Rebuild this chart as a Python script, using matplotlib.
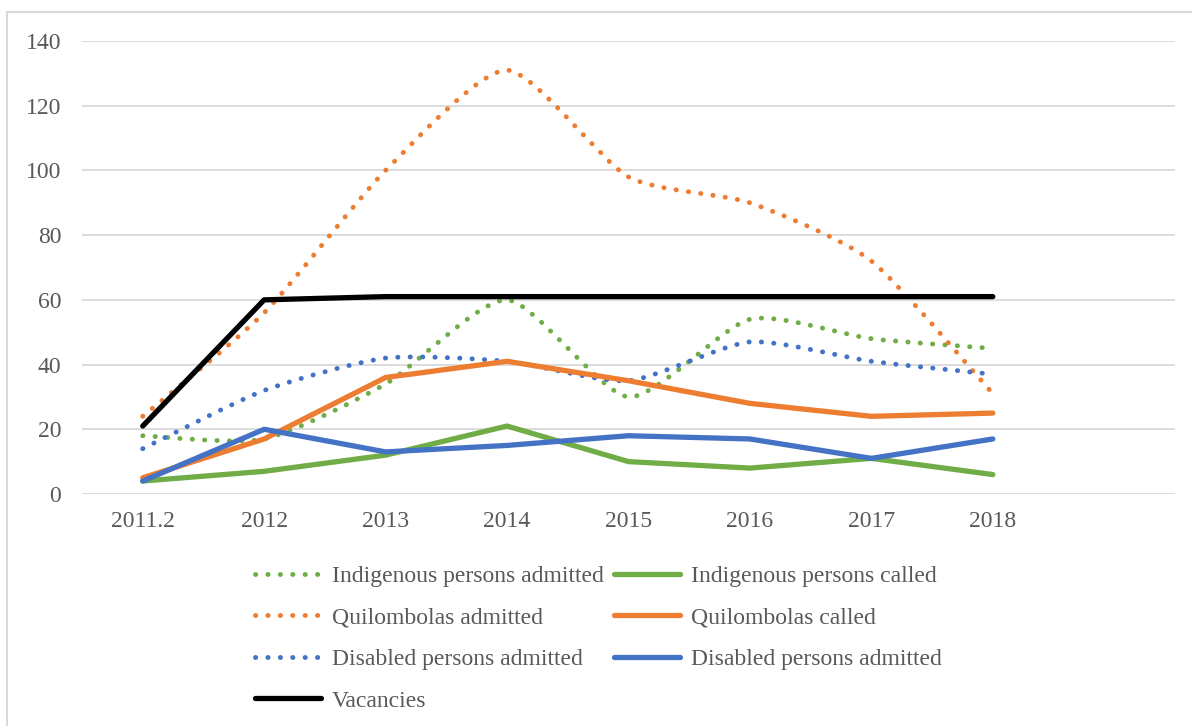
import matplotlib.pyplot as plt
import numpy as np
from matplotlib.path import Path
from matplotlib.patches import PathPatch
from matplotlib.lines import Line2D

plt.rcParams['font.family'] = ['Liberation Serif', 'DejaVu Serif']

years = ['2011.2', '2012', '2013', '2014', '2015', '2016', '2017', '2018']

indigenous_admitted = [18, 17, 34, 60, 30, 54, 48, 45]
indigenous_called = [4, 7, 12, 21, 10, 8, 11, 6]
quilombolas_admitted = [24, 56, 100, 131, 98, 90, 72, 31]
quilombolas_called = [5, 17, 36, 41, 35, 28, 24, 25]
disabled_admitted = [14, 32, 42, 41, 35, 47, 41, 37]
disabled_called = [4, 20, 13, 15, 18, 17, 11, 17]
vacancies = [21, 60, 61, 61, 61, 61, 61, 61]

GREEN = '#70AD47'
ORANGE = '#ED7D31'
BLUE = '#4472C4'
TEXT = '#595959'
FS = 17


def smooth_path(xs, ys, k=1 / 9.0):
    # cubic bezier through every point, control points from neighbours
    pts = np.column_stack([xs, ys]).astype(float)
    padded = np.vstack([pts[0], pts, pts[-1]])
    verts = [pts[0]]
    codes = [Path.MOVETO]
    for i in range(len(pts) - 1):
        p0, p1, p2, p3 = padded[i], padded[i + 1], padded[i + 2], padded[i + 3]
        c1 = p1 + (p2 - p0) * k
        c2 = p2 - (p3 - p1) * k
        verts += [c1, c2, p2]
        codes += [Path.CURVE4] * 3
    return Path(verts, codes)


fig = plt.figure(figsize=(11.92, 7.26), dpi=100)
ax = fig.add_axes([0.0688, 0.3196, 0.9169, 0.6239])

x = np.arange(len(years))
dot_style = (0, (0.05, 2.5))
dot_lw = 3.5
solid_lw = 3.8

for vals, col in [(indigenous_admitted, GREEN),
                  (quilombolas_admitted, ORANGE),
                  (disabled_admitted, BLUE)]:
    patch = PathPatch(smooth_path(x, vals), fill=False, edgecolor=col,
                      linewidth=dot_lw, linestyle=dot_style, zorder=3)
    patch.set_capstyle('round')
    ax.add_patch(patch)

ax.plot(x, indigenous_called, color=GREEN, lw=solid_lw, zorder=4,
        solid_capstyle='round', solid_joinstyle='round')
ax.plot(x, quilombolas_called, color=ORANGE, lw=solid_lw, zorder=4,
        solid_capstyle='round', solid_joinstyle='round')
ax.plot(x, disabled_called, color=BLUE, lw=solid_lw, zorder=4,
        solid_capstyle='round', solid_joinstyle='round')
ax.plot(x, vacancies, color='black', lw=solid_lw, zorder=5,
        solid_capstyle='round', solid_joinstyle='round')

ax.set_xlim(-0.5, 8.5)
ax.set_ylim(0, 140)
ax.set_yticks(range(0, 141, 20))
ax.set_xticks(x)
ax.set_xticklabels(years)
ax.grid(axis='y', color='#D9D9D9', lw=1.3, zorder=0)
ax.set_axisbelow(True)
for s in ax.spines.values():
    s.set_visible(False)
ax.tick_params(length=0, labelsize=FS, colors=TEXT)
ax.tick_params(axis='x', pad=12)
ax.tick_params(axis='y', pad=15)


def dot_handle(col):
    h = Line2D([], [], color=col, lw=dot_lw, linestyle=dot_style)
    h.set_dash_capstyle('round')
    return h


def solid_handle(col):
    return Line2D([], [], color=col, lw=solid_lw, solid_capstyle='round')


# legend is filled column by column, so list column 1 first
handles = [dot_handle(GREEN), dot_handle(ORANGE), dot_handle(BLUE),
           solid_handle('black'),
           solid_handle(GREEN), solid_handle(ORANGE), solid_handle(BLUE)]
labels = ['Indigenous persons admitted', 'Quilombolas admitted',
          'Disabled persons admitted', 'Vacancies',
          'Indigenous persons called', 'Quilombolas called',
          'Disabled persons admitted']
leg = fig.legend(handles, labels, ncol=2, loc='upper left',
                 bbox_to_anchor=(0.2139, 0.2212), frameon=False, fontsize=FS,
                 handlelength=2.8, handletextpad=0.47, columnspacing=0.42,
                 labelspacing=0.85, borderpad=0, borderaxespad=0)
for t in leg.get_texts():
    t.set_color(TEXT)

# chart area border: only left and top edges are inside the frame
bx, by = 7 / 1192, 1 - 12 / 726
fig.add_artist(Line2D([bx, bx], [0, by], transform=fig.transFigure,
                      color='#D9D9D9', lw=1.5))
fig.add_artist(Line2D([bx, 1], [by, by], transform=fig.transFigure,
                      color='#D9D9D9', lw=1.5))

fig.savefig('out.png', dpi=100)
